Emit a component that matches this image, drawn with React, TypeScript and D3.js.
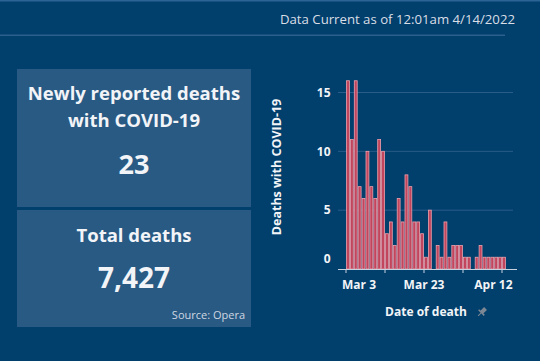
import * as d3 from 'd3';
import React from 'react';

const width = 540;
const height = 361;

const bg = '#013f6c';
const panel = '#285a84';
const barFill = '#c2455e';
const barStroke = '#eba0ab';
const textColor = '#f2f4f7';

// daily deaths, Mar 3 .. Apr 12 2022
const startDate = new Date(2022, 2, 3);
const deaths = [
  16, 11, 16, 7, 6, 10, 7, 6, 11, 10,
  3, 4, 2, 6, 4, 8, 7, 4, 4, 3,
  1, 5, 0, 2, 1, 4, 1, 2, 2, 2,
  1, 1, 0, 1, 2, 1, 1, 1, 1, 1, 1,
];
const yTicks = [0, 5, 10, 15];
const xTickDates = [new Date(2022, 2, 3), new Date(2022, 2, 13), new Date(2022, 2, 23), new Date(2022, 3, 2), new Date(2022, 3, 12)];
const xLabelDates = [new Date(2022, 2, 3), new Date(2022, 2, 23), new Date(2022, 3, 12)];

const headerText = 'Data Current as of 12:01am 4/14/2022';
const newTitle = ['Newly reported deaths', 'with COVID-19'];
const newValue = '23';
const totalTitle = 'Total deaths';
const totalValue = '7,427';
const source = 'Source: Opera';

const font = '"Open Sans", "DejaVu Sans", sans-serif';

const App = () => {
  const data = deaths.map((v, i) => ({ date: d3.timeDay.offset(startDate, i), value: v }));

  const axisLeft = 338;
  const axisRight = 513;
  const xScale = d3.scaleTime()
    .domain([startDate, d3.timeDay.offset(startDate, 40)])
    .range([346, 502]);
  const yScale = d3.scaleLinear().domain([0, 15]).range([269, 92.5]);
  const barW = xScale(d3.timeDay.offset(startDate, 1)) - xScale(startDate);
  const fmt = d3.timeFormat('%b %-d');

  return (
    <svg width={width} height={height} style={{ position: 'absolute', left: 0, top: 0, fontFamily: font }}>
      <rect width={width} height={height} fill={bg} />
      <rect width={width} height={1.5} fill="#2d6496" />
      <text x={515} y={24} textAnchor="end" fontSize={13.2} fill="#d9dee6">{headerText}</text>
      <rect x={0} y={34.5} width={505} height={1.5} fill="#2c5f8c" />

      {/* KPI panels */}
      <rect x={17} y={69} width={234} height={138} fill={panel} />
      <rect x={17} y={210} width={234} height={117} fill={panel} />
      {newTitle.map((t, i) => (
        <text key={t} x={134} y={100 + i * 27} textAnchor="middle" fontSize={18.5} fontWeight={700} fill={textColor}>{t}</text>
      ))}
      <text x={134} y={174} textAnchor="middle" fontSize={27} fontWeight={700} fill={textColor}>{newValue}</text>
      <text x={134} y={242} textAnchor="middle" fontSize={18.5} fontWeight={700} fill={textColor}>{totalTitle}</text>
      <text x={134} y={288} textAnchor="middle" fontSize={28} fontWeight={700} fill={textColor}>{totalValue}</text>
      <text x={245} y={319} textAnchor="end" fontSize={11} fill="#cfd7e1">{source}</text>

      {/* grid */}
      {yTicks.filter(t => t > 0).map(t => (
        <line key={t} x1={axisLeft} x2={axisRight} y1={yScale(t)} y2={yScale(t)} stroke="#2b5d89" strokeWidth={1} />
      ))}

      {/* bars */}
      {data.filter(d => d.value > 0).map((d, i) => (
        <rect key={i}
          x={xScale(d.date) + 0.5}
          y={yScale(d.value)}
          width={barW - 1}
          height={yScale(0) - yScale(d.value)}
          fill={barFill} stroke={barStroke} strokeWidth={0.8} />
      ))}

      {/* y axis labels */}
      {yTicks.map(t => (
        <text key={t} x={330.5} y={t === 0 ? yScale(t) - 10 : yScale(t)} dy="0.35em" textAnchor="end"
          fontSize={12} fontWeight={700} fill={textColor}>{t}</text>
      ))}
      <text transform="translate(277,167) rotate(-90)" textAnchor="middle" dy="0.35em"
        fontSize={12.5} fontWeight={700} fill={textColor}>Deaths with COVID-19</text>

      {/* x axis */}
      <line x1={axisLeft} x2={axisRight + 4} y1={269.5} y2={269.5} stroke="#c8d2de" strokeWidth={1} />
      {xTickDates.map((d, i) => (
        <line key={i} x1={xScale(d)} x2={xScale(d)} y1={269.5} y2={273} stroke="#c8d2de" strokeWidth={1} />
      ))}
      {xLabelDates.map((d, i) => {
        const first = i === 0;
        const last = i === xLabelDates.length - 1;
        const x = first ? 342 : last ? axisRight - 0.5 : xScale(d);
        return (
          <text key={i} x={x} y={285} dy="0.35em" textAnchor={first ? 'start' : last ? 'end' : 'middle'}
            fontSize={12} fontWeight={700} fill={textColor}>{fmt(d)}</text>
        );
      })}
      <text x={426} y={312} dy="0.35em" textAnchor="middle" fontSize={12} fontWeight={700} fill={textColor}>Date of death</text>
      <g transform="translate(482,312) rotate(45)" fill="#7d8894">
        <rect x={-2} y={-5} width={4} height={6} />
        <rect x={-4} y={0} width={8} height={1.5} />
        <rect x={-0.5} y={1.5} width={1} height={4} />
      </g>
    </svg>
  );
};

export default App;
